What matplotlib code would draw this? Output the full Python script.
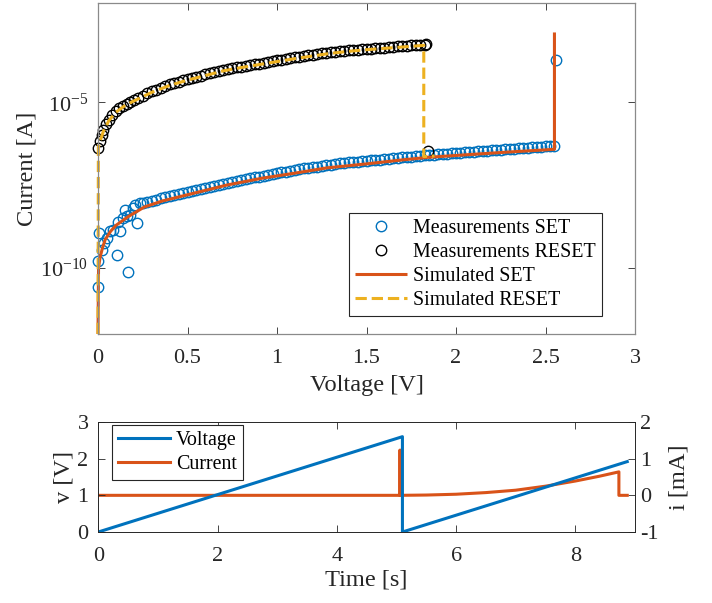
import numpy as np
import matplotlib.pyplot as plt
from matplotlib.ticker import FixedLocator, LogFormatterMathtext, NullLocator

plt.rcParams['font.family'] = ['Liberation Serif', 'DejaVu Serif']
plt.rcParams['mathtext.fontset'] = 'custom'
plt.rcParams['mathtext.rm'] = 'Liberation Serif'
plt.rcParams['mathtext.it'] = 'Liberation Serif:italic'

BLUE = '#0072BD'
ORANGE = '#D95319'
YELLOW = '#EDB120'
AXC = '#262626'

# --- I-V curve, currents given as log10(I [A]) ---
# measured SET sweep: noisy start, then the dense band, then the jump point
set_meas_v = [0.0, 0.0, 0.003, 0.02, 0.035, 0.05, 0.067, 0.085, 0.106, 0.112, 0.125,
              0.14, 0.15, 0.16, 0.167, 0.18, 0.195, 0.206, 0.218, 0.234,
              0.25, 0.275, 0.3, 0.325, 0.35, 0.375, 0.4, 0.425, 0.45, 0.475,
              0.5, 0.525, 0.55, 0.575, 0.6, 0.625, 0.65, 0.675, 0.7, 0.725,
              0.75, 0.775, 0.8, 0.825, 0.85, 0.875, 0.9, 0.925, 0.95, 0.975,
              1.0, 1.025, 1.05, 1.075, 1.1, 1.125, 1.15, 1.175, 1.2, 1.225,
              1.25, 1.275, 1.3, 1.325, 1.35, 1.375, 1.4, 1.425, 1.45, 1.475,
              1.5, 1.525, 1.55, 1.575, 1.6, 1.625, 1.65, 1.675, 1.7, 1.725,
              1.75, 1.775, 1.8, 1.825, 1.85, 1.875, 1.9, 1.925, 1.95, 1.975,
              2.0, 2.025, 2.05, 2.075, 2.1, 2.125, 2.15, 2.175, 2.2, 2.225,
              2.25, 2.275, 2.3, 2.325, 2.35, 2.375, 2.4, 2.425, 2.45, 2.475,
              2.5, 2.525, 2.55, 2.557]
set_meas_logi = [-10.57, -9.80, -8.95, -9.45, -9.25, -9.10, -8.90, -8.85, -9.62, -8.62, -8.88,
                 -8.50, -8.25, -8.45, -10.12, -8.40, -8.20, -8.10, -8.66, -8.04,
                 -8.05, -8.01, -7.97, -7.94, -7.905, -7.875, -7.84, -7.81, -7.78, -7.75,
                 -7.72, -7.69, -7.66, -7.63, -7.59, -7.56, -7.53, -7.50, -7.47, -7.44,
                 -7.41, -7.38, -7.35, -7.32, -7.30, -7.27, -7.25, -7.22, -7.20, -7.17,
                 -7.15, -7.12, -7.10, -7.07, -7.05, -7.03, -7.00, -6.98, -6.96, -6.94,
                 -6.92, -6.90, -6.88, -6.86, -6.845, -6.83, -6.815, -6.80, -6.79, -6.78,
                 -6.765, -6.75, -6.74, -6.73, -6.715, -6.70, -6.69, -6.68, -6.665, -6.65,
                 -6.64, -6.63, -6.615, -6.60, -6.59, -6.58, -6.57, -6.56, -6.55, -6.54,
                 -6.53, -6.52, -6.51, -6.50, -6.49, -6.48, -6.47, -6.46, -6.45, -6.44,
                 -6.43, -6.42, -6.415, -6.405, -6.395, -6.385, -6.375, -6.365, -6.355, -6.345,
                 -6.335, -6.325, -6.32, -3.71]

# measured RESET sweep
reset_meas_v = [0.0, 0.01, 0.02, 0.03, 0.045, 0.06, 0.08, 0.1, 0.12, 0.14, 0.16, 0.18,
                0.2, 0.225, 0.25, 0.275, 0.3, 0.325, 0.35, 0.375, 0.4, 0.425,
                0.45, 0.475, 0.5, 0.525, 0.55, 0.575, 0.6, 0.625, 0.65, 0.675,
                0.7, 0.725, 0.75, 0.775, 0.8, 0.825, 0.85, 0.875, 0.9, 0.925,
                0.95, 0.975, 1.0, 1.025, 1.05, 1.075, 1.1, 1.125, 1.15, 1.175,
                1.2, 1.225, 1.25, 1.275, 1.3, 1.325, 1.35, 1.375, 1.4, 1.425,
                1.45, 1.475, 1.5, 1.525, 1.55, 1.575, 1.6, 1.625, 1.65, 1.675,
                1.7, 1.725, 1.75, 1.775, 1.8, 1.825, 1.833, 1.846]
reset_meas_logi = [-6.39, -6.18, -6.00, -5.85, -5.66, -5.52, -5.38, -5.27, -5.18, -5.10, -5.04, -4.98,
                   -4.93, -4.86, -4.80, -4.73, -4.67, -4.62, -4.56, -4.51, -4.46, -4.42,
                   -4.38, -4.34, -4.30, -4.265, -4.23, -4.195, -4.16, -4.125, -4.09, -4.055,
                   -4.02, -3.995, -3.97, -3.945, -3.92, -3.90, -3.875, -3.85, -3.83, -3.805,
                   -3.78, -3.755, -3.73, -3.71, -3.685, -3.66, -3.64, -3.62, -3.60, -3.58,
                   -3.56, -3.54, -3.52, -3.50, -3.48, -3.47, -3.455, -3.445, -3.43, -3.42,
                   -3.41, -3.40, -3.39, -3.38, -3.365, -3.355, -3.345, -3.335, -3.32, -3.31,
                   -3.30, -3.29, -3.28, -3.275, -3.265, -3.255, -3.25, -6.48]

# simulated SET
set_sim_v = [0.0, 0.003, 0.011, 0.025, 0.04, 0.07, 0.1, 0.167, 0.26, 0.36, 0.54, 0.72,
             0.92, 1.1, 1.28, 1.5, 1.7, 1.85, 2.1, 2.3, 2.55, 2.55]
set_sim_logi = [-12.0, -10.0, -9.7, -9.4, -9.15, -8.9, -8.72, -8.46, -8.16, -7.98, -7.74, -7.50,
                -7.29, -7.14, -6.98, -6.86, -6.74, -6.66, -6.57, -6.50, -6.42, -2.89]

# simulated RESET
reset_sim_v = [0.0, 0.002, 0.01, 0.03, 0.06, 0.1, 0.15, 0.2, 0.3, 0.4, 0.5, 0.6, 0.7, 0.8,
               0.9, 1.0, 1.1, 1.2, 1.3, 1.4, 1.5, 1.6, 1.7, 1.82, 1.82, 1.88]
reset_sim_logi = [-12.0, -6.35, -6.20, -5.88, -5.56, -5.30, -5.10, -4.96, -4.70, -4.49, -4.33,
                  -4.19, -4.05, -3.95, -3.86, -3.77, -3.68, -3.60, -3.52, -3.46, -3.41, -3.37,
                  -3.33, -3.28, -6.64, -6.62]

# --- time traces ---
t_volt = [0.0, 5.1, 5.1, 8.87]
v_volt = [0.0, 2.6, 0.0, 1.92]
t_curr = [0.0, 5.06, 5.06, 5.06, 5.5, 6.0, 6.5, 7.0, 7.5, 8.0, 8.4, 8.73, 8.73, 8.87]
i_curr = [0.0, 0.0, 1.23, 0.0, 0.008, 0.03, 0.075, 0.14, 0.25, 0.39, 0.52, 0.64, 0.0, 0.0]

fig = plt.figure(figsize=(7.12, 6.03), dpi=100)

# I-V plot
ax = fig.add_axes([98 / 712, 1 - 334 / 603, 537 / 712, 331 / 603])
ax.plot(set_meas_v, 10.0 ** np.array(set_meas_logi), 'o', ms=7.5, mfc='none', mec=BLUE,
        mew=1.0, label='Measurements SET', clip_on=False)
ax.plot(reset_meas_v, 10.0 ** np.array(reset_meas_logi), 'o', ms=7.5, mfc='none', mec='black',
        mew=1.0, label='Measurements RESET', clip_on=False)
ax.plot(set_sim_v, 10.0 ** np.array(set_sim_logi), '-', color=ORANGE, lw=2.2,
        label='Simulated SET', clip_on=False, solid_capstyle='butt')
ax.plot(reset_sim_v, 10.0 ** np.array(reset_sim_logi), '--', color=YELLOW, lw=2.2,
        label='Simulated RESET', clip_on=False)
ax.set_yscale('log')
ax.set_xlim(0, 3)
ax.set_ylim(1e-12, 1e-2)
ax.xaxis.set_major_locator(FixedLocator([0, 0.5, 1, 1.5, 2, 2.5, 3]))
ax.set_xticklabels(['0', '0.5', '1', '1.5', '2', '2.5', '3'])
ax.yaxis.set_major_locator(FixedLocator([1e-10, 1e-5]))
ax.yaxis.set_major_formatter(LogFormatterMathtext())
ax.yaxis.set_minor_locator(NullLocator())
ax.set_xlabel('Voltage [V]', fontsize=17.6, color=AXC, labelpad=5)
ax.set_ylabel('Current [A]', fontsize=17.6, color=AXC, labelpad=2)
ax.legend(loc='lower right', bbox_to_anchor=(0.9385, 0.0544), fontsize=14.4,
          fancybox=False, framealpha=1, edgecolor=AXC, borderaxespad=0, borderpad=0.3,
          handlelength=2.6, handletextpad=0.3, labelspacing=0.25, numpoints=1)
ax.get_legend().get_frame().set_linewidth(0.8)

# time plot (voltage axis kept above the current axis)
bx = fig.add_axes([98.3 / 712, 1 - 532 / 603, 536.7 / 712, 110 / 603])
bx2 = bx.twinx()
bx.set_zorder(bx2.get_zorder() + 1)
bx.patch.set_visible(False)
l1, = bx.plot(t_volt, v_volt, color=BLUE, lw=2.2, label='Voltage')
l2, = bx2.plot(t_curr, i_curr, color=ORANGE, lw=2.2, label='Current')
bx.set_xlim(0, 9)
bx.set_ylim(0, 3)
bx2.set_ylim(-1, 2)
bx.set_xticks([0, 2, 4, 6, 8])
bx.set_yticks([0, 1, 2, 3])
bx2.set_yticks([-1, 0, 1, 2])
bx2.set_yticklabels(['-1', '0', '1', '2'])
bx.set_xlabel('Time [s]', fontsize=17.6, color=AXC, labelpad=2)
bx.set_ylabel('v [V]', fontsize=17.6, color=AXC, labelpad=2)
bx2.set_ylabel('i [mA]', fontsize=17.6, color=AXC, labelpad=7)
bx.legend([l1, l2], ['Voltage', 'Current'], loc='upper left', bbox_to_anchor=(0.025, 0.973),
          fontsize=14.4, fancybox=False, framealpha=1, edgecolor=AXC, borderaxespad=0,
          borderpad=0.3, handlelength=2.6, handletextpad=0.3, labelspacing=0.25)
bx.get_legend().get_frame().set_linewidth(0.8)

for a in (ax, bx, bx2):
    for s in a.spines.values():
        s.set_color(AXC)
        s.set_linewidth(0.6)
    a.tick_params(which='both', direction='in', labelsize=16, colors=AXC, length=5, width=0.6)
for s in ax.spines.values():
    s.set_color('#8a8a8a')
    s.set_linewidth(0.9)
ax.tick_params(top=True, right=True)
ax.tick_params(axis='x', pad=11)
ax.tick_params(axis='y', pad=7)
bx.tick_params(top=True)
bx.tick_params(axis='x', pad=11)
bx.tick_params(axis='y', pad=7)

fig.savefig('out.png', dpi=100)
